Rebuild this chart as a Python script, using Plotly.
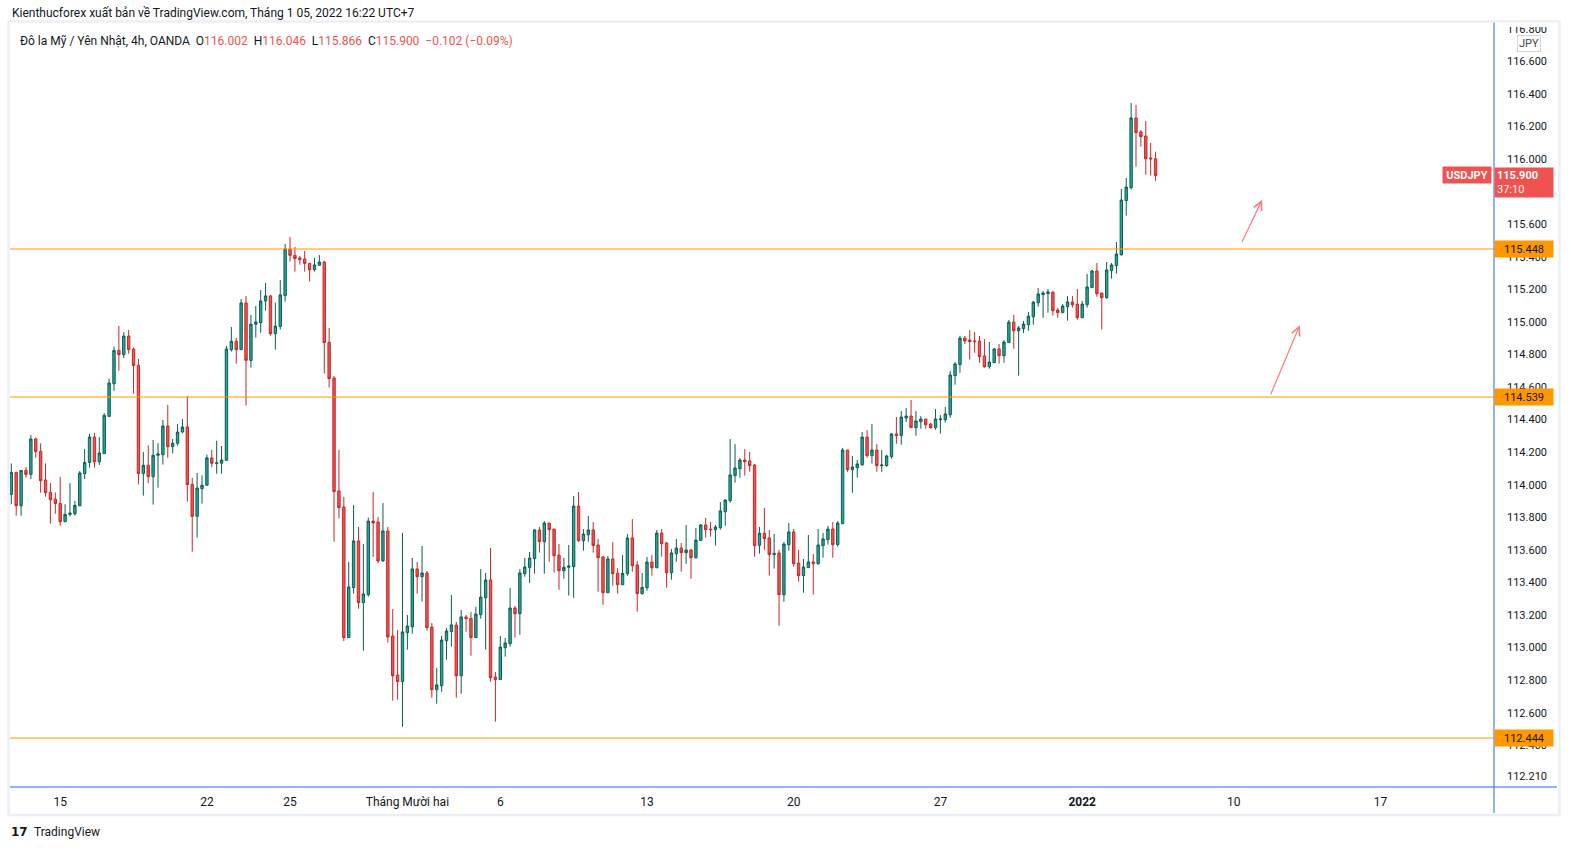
import plotly.graph_objects as go
import pandas as pd

# ---------------- data (USDJPY 4h, OANDA) ----------------
open_ = [113.941,114.076,113.871,114.088,114.064,114.281,114.205,114.029,113.953,113.912,
 113.885,113.773,113.818,113.822,113.871,114.068,114.137,114.293,114.141,114.191,
 114.420,114.621,114.825,114.799,114.913,114.833,114.733,114.070,114.119,114.050,
 114.181,114.185,114.361,114.234,114.255,114.324,114.355,114.001,113.806,113.976,
 113.997,114.165,114.130,114.132,114.150,114.830,114.881,114.830,115.117,114.764,
 114.986,114.996,115.129,115.160,114.928,114.973,115.162,115.448,115.409,115.393,
 115.387,115.360,115.321,115.348,115.368,114.875,114.656,113.962,113.863,113.061,
 113.368,113.655,113.276,113.325,113.777,113.771,113.532,113.716,113.071,112.831,
 112.791,113.092,113.128,113.483,113.435,113.458,113.126,112.741,112.766,113.042,
 113.098,113.138,112.827,113.188,113.179,113.061,113.202,113.306,113.415,112.819,
 112.803,112.999,113.024,113.243,113.208,113.454,113.491,113.546,113.722,113.650,
 113.765,113.728,113.568,113.472,113.493,113.497,113.869,113.656,113.693,113.722,
 113.630,113.556,113.337,113.544,113.456,113.386,113.454,113.673,113.507,113.331,
 113.368,113.525,113.490,113.703,113.642,113.460,113.576,113.611,113.583,113.599,
 113.552,113.658,113.753,113.728,113.724,113.736,113.834,113.902,114.056,114.099,
 114.152,114.146,114.121,113.628,113.702,113.673,113.571,113.581,113.325,113.632,
 113.710,113.519,113.442,113.491,113.526,113.515,113.626,113.663,113.728,113.632,
 113.761,114.213,114.093,114.105,114.123,114.293,114.179,114.213,114.117,114.117,
 114.173,114.312,114.302,114.410,114.422,114.351,114.387,114.404,114.373,114.351,
 114.400,114.400,114.430,114.670,114.738,114.901,114.889,114.883,114.883,114.791,
 114.725,114.750,114.834,114.793,114.873,114.999,114.946,114.959,114.983,115.032,
 115.118,115.168,115.174,115.184,115.073,115.057,115.094,115.123,115.110,115.026,
 115.106,115.211,115.313,115.178,115.149,115.315,115.346,115.413,115.745,115.825,
 116.253,116.167,116.142,116.007,116.002]
high = [114.131,114.080,114.088,114.109,114.305,114.289,114.254,114.131,114.010,113.953,
 114.047,113.880,114.010,113.900,114.084,114.219,114.313,114.318,114.293,114.440,
 114.653,114.850,114.975,114.938,114.950,114.842,114.772,114.201,114.242,114.275,
 114.255,114.398,114.490,114.281,114.373,114.404,114.545,114.042,114.072,114.058,
 114.185,114.214,114.271,114.238,114.853,114.969,114.902,115.141,115.160,115.043,
 115.098,115.196,115.239,115.166,115.119,115.258,115.479,115.522,115.461,115.405,
 115.436,115.360,115.393,115.411,115.375,114.963,114.668,114.214,113.925,113.526,
 113.876,113.741,113.636,113.798,113.956,113.802,113.888,113.741,113.237,113.108,
 113.704,113.200,113.550,113.526,113.624,113.470,113.151,112.874,113.071,113.120,
 113.323,113.157,113.231,113.200,113.218,113.251,113.482,113.458,113.611,112.850,
 113.071,113.059,113.366,113.255,113.482,113.550,113.587,113.728,113.740,113.777,
 113.765,113.728,113.636,113.550,113.630,113.931,113.955,113.728,113.808,113.771,
 113.667,113.562,113.562,113.648,113.488,113.568,113.697,113.789,113.531,113.458,
 113.556,113.568,113.722,113.728,113.648,113.605,113.667,113.642,113.753,113.605,
 113.734,113.759,113.796,113.771,113.753,113.894,113.912,114.281,114.250,114.164,
 114.219,114.201,114.127,113.741,113.857,113.722,113.698,113.601,113.648,113.765,
 113.728,113.599,113.544,113.691,113.575,113.728,113.704,113.747,113.771,113.777,
 114.226,114.213,114.177,114.152,114.324,114.336,114.373,114.250,114.213,114.183,
 114.318,114.416,114.453,114.471,114.521,114.453,114.422,114.404,114.379,114.465,
 114.428,114.478,114.699,114.754,114.914,114.914,114.950,114.938,114.914,114.895,
 114.877,114.840,114.865,114.889,115.012,115.043,114.975,115.006,115.061,115.129,
 115.208,115.190,115.202,115.184,115.086,115.110,115.159,115.159,115.202,115.129,
 115.295,115.319,115.362,115.178,115.368,115.362,115.491,115.817,115.884,116.345,
 116.333,116.179,116.234,116.099,116.046]
low = [113.880,113.810,113.810,114.043,114.035,114.166,113.951,113.926,113.761,113.822,
 113.748,113.773,113.806,113.810,113.871,114.035,114.105,114.105,114.121,114.191,
 114.416,114.576,114.700,114.778,114.805,114.559,114.002,113.933,114.009,113.878,
 113.982,114.124,114.165,114.193,114.240,114.316,113.896,113.589,113.675,113.884,
 113.997,114.107,114.068,114.068,114.150,114.818,114.744,114.830,114.486,114.719,
 114.904,114.934,115.070,114.916,114.830,114.953,115.125,115.371,115.309,115.352,
 115.309,115.248,115.309,115.348,114.683,114.597,113.650,113.792,113.040,113.061,
 113.331,113.239,112.981,113.313,113.556,113.519,113.526,113.030,112.674,112.680,
 112.514,112.987,113.085,113.331,113.282,113.104,112.692,112.655,112.729,112.926,
 113.006,112.692,112.717,113.097,112.950,113.061,113.177,112.987,112.790,112.545,
 112.803,112.944,113.005,113.061,113.079,113.435,113.398,113.454,113.583,113.454,
 113.527,113.460,113.355,113.423,113.319,113.306,113.650,113.595,113.650,113.583,
 113.343,113.263,113.337,113.380,113.331,113.386,113.441,113.466,113.220,113.325,
 113.349,113.441,113.490,113.558,113.368,113.417,113.527,113.466,113.515,113.423,
 113.546,113.656,113.675,113.681,113.626,113.724,113.748,113.890,114.013,114.043,
 114.056,114.080,113.558,113.577,113.601,113.442,113.485,113.134,113.282,113.595,
 113.497,113.405,113.337,113.491,113.325,113.509,113.552,113.632,113.552,113.620,
 113.761,114.080,113.951,114.044,114.117,114.166,114.130,114.080,114.080,114.111,
 114.160,114.252,114.246,114.385,114.351,114.301,114.344,114.344,114.344,114.338,
 114.314,114.381,114.412,114.615,114.688,114.865,114.768,114.811,114.750,114.719,
 114.713,114.750,114.744,114.750,114.873,114.836,114.670,114.932,114.946,114.983,
 115.094,115.026,115.057,115.039,115.026,115.057,115.008,115.088,115.014,115.026,
 115.088,115.211,115.155,114.953,115.143,115.266,115.297,115.407,115.653,115.813,
 115.954,116.077,115.905,115.899,115.866]
close = [114.076,113.871,114.088,114.064,114.281,114.205,114.025,113.951,113.908,113.885,
 113.773,113.818,113.826,113.873,114.072,114.137,114.293,114.141,114.195,114.426,
 114.625,114.825,114.799,114.913,114.831,114.733,114.068,114.119,114.050,114.181,
 114.189,114.361,114.234,114.255,114.324,114.355,114.001,113.806,113.980,113.997,
 114.165,114.132,114.134,114.152,114.834,114.881,114.830,115.117,114.764,114.986,
 115.000,115.129,115.160,114.928,114.975,115.166,115.448,115.409,115.389,115.383,
 115.360,115.321,115.350,115.368,114.873,114.652,113.958,113.859,113.061,113.372,
 113.655,113.276,113.329,113.777,113.765,113.532,113.716,113.065,112.827,112.791,
 113.096,113.132,113.483,113.435,113.458,113.122,112.741,112.770,113.046,113.102,
 113.139,112.827,113.188,113.179,113.061,113.206,113.310,113.415,112.815,112.803,
 113.003,113.028,113.243,113.208,113.458,113.495,113.550,113.722,113.650,113.765,
 113.724,113.564,113.472,113.493,113.501,113.869,113.656,113.697,113.722,113.626,
 113.552,113.337,113.544,113.454,113.386,113.456,113.673,113.503,113.331,113.370,
 113.525,113.490,113.703,113.638,113.460,113.581,113.611,113.583,113.599,113.552,
 113.660,113.753,113.724,113.724,113.740,113.839,113.906,114.060,114.103,114.152,
 114.142,114.117,113.626,113.702,113.669,113.571,113.579,113.325,113.636,113.710,
 113.515,113.442,113.495,113.526,113.515,113.630,113.667,113.728,113.632,113.765,
 114.213,114.093,114.109,114.128,114.293,114.179,114.213,114.117,114.121,114.177,
 114.312,114.302,114.416,114.422,114.351,114.392,114.404,114.369,114.351,114.404,
 114.404,114.435,114.674,114.742,114.901,114.883,114.879,114.879,114.787,114.725,
 114.754,114.834,114.793,114.877,114.999,114.946,114.963,114.987,115.036,115.122,
 115.172,115.178,115.184,115.069,115.057,115.098,115.123,115.106,115.026,115.110,
 115.215,115.313,115.174,115.149,115.319,115.350,115.417,115.749,115.829,116.253,
 116.163,116.138,116.003,116.002,115.900]

first_bar = "2021-11-11 13:00"          # first visible 4h bar (UTC+7)
tick_dates = ["2021-11-15", "2021-11-22", "2021-11-25", "2021-12-01", "2021-12-06",
              "2021-12-13", "2021-12-20", "2021-12-27", "2022-01-01", "2022-01-10", "2022-01-17"]
tick_labels = ["15", "22", "25", "Tháng Mười hai", "6", "13", "20", "27", "<b>2022</b>", "10", "17"]

levels = [115.448, 114.539, 112.444]          # horizontal support/resistance lines
price_ticks = [112.21, 112.4, 112.6, 112.8, 113.0, 113.2, 113.4, 113.6, 113.8, 114.0,
               114.2, 114.4, 114.6, 114.8, 115.0, 115.2, 115.4, 115.6, 115.8, 116.0,
               116.2, 116.4, 116.6, 116.8]
# arrows drawn on chart (bar index, price)
arrow_tail_x = [251.5, 257.4]
arrow_tail_y = [115.48, 114.545]
arrow_head_x = [255.8, 263.5]
arrow_head_y = [115.75, 114.98]

header_text = "Kienthucforex xuất bản về TradingView.com, Tháng 1 05, 2022 16:22 UTC+7"
symbol_text = "Đô la Mỹ / Yên Nhật, 4h, OANDA"
countdown = "37:10"

# ---------------- bar timeline (forex 4h bars, weekends skipped) ----------------
bars = []
day = pd.Timestamp("2021-11-11")
while day < pd.Timestamp("2022-01-25"):
    if day.weekday() < 5:
        for h in [5, 9, 13, 17, 21, 25]:
            bars.append(day + pd.Timedelta(hours=h))
    day += pd.Timedelta(days=1)
bars = [b for b in bars if b >= pd.Timestamp(first_bar)]
tick_pos = []
for d in tick_dates:
    dd = pd.Timestamp(d).date()
    tick_pos.append(next(i for i, b in enumerate(bars) if b.date() == dd))

UP_FILL, UP_LINE = "#26a69a", "#0b5e52"
DN_FILL, DN_LINE = "#ef5350", "#c62828"
ORANGE = "#ff9800"
BLUE = "#2962ff"
TXT = "#131722"
FONT = "Roboto"

W, H = 1571, 852
ML, MR, MT, MB = 10, 77, 22, 65
PW, PH = W - ML - MR, H - MT - MB

def px(X):
    return (X - ML) / PW

def py(Y):
    return (H - MB - Y) / PH

xs = list(range(len(open_)))

fig = go.Figure()
fig.add_trace(go.Candlestick(
    x=xs, open=open_, high=high, low=low, close=close,
    increasing=dict(line=dict(color=UP_LINE, width=1), fillcolor=UP_FILL),
    decreasing=dict(line=dict(color=DN_LINE, width=1), fillcolor=DN_FILL),
    whiskerwidth=0, hoverinfo="skip", showlegend=False,
))

shapes = []
for lv in levels:
    shapes.append(dict(type="line", xref="paper", yref="y", x0=0, x1=1, y0=lv, y1=lv,
                       line=dict(color=ORANGE, width=1), layer="above"))
# scale borders
shapes.append(dict(type="line", xref="paper", yref="paper", x0=0, x1=px(1557), y0=0, y1=0,
                   line=dict(color=BLUE, width=1)))
shapes.append(dict(type="line", xref="paper", yref="paper", x0=1, x1=1, y0=1, y1=py(813),
                   line=dict(color=BLUE, width=1)))
# outer frame
shapes.append(dict(type="rect", xref="paper", yref="paper", x0=px(8.5), x1=px(1559.5),
                   y0=py(815), y1=py(21.5), line=dict(color="#eceff5", width=2.5)))
# top edge of price scale clips the topmost label
shapes.append(dict(type="rect", xref="paper", yref="paper", x0=px(1495), x1=px(1557),
                   y0=py(27), y1=py(22.5), fillcolor="white", line=dict(width=0), layer="above"))

annotations = []
for lv in levels:
    annotations.append(dict(xref="paper", yref="y", x=1, y=lv, xanchor="left", yanchor="middle",
                            text=f"{lv:.3f}", showarrow=False, bgcolor=ORANGE, width=54, height=12,
                            borderpad=2, font=dict(family=FONT, size=11, color=TXT)))
last = close[-1]
chg = close[-1] - close[-2]
pct = chg / close[-2] * 100
annotations.append(dict(xref="paper", yref="y", x=1, y=last, yshift=8, xanchor="left", yanchor="top",
                        text=f"<b>{last:.3f}</b><br><span style='color:#fff1f1'>{countdown}</span>",
                        showarrow=False, bgcolor="#ef5350", width=54, height=25, borderpad=2,
                        align="left", font=dict(family=FONT, size=11, color="white")))
annotations.append(dict(xref="paper", yref="y", x=px(1442), y=last, yshift=0, xanchor="left",
                        yanchor="middle", text="<b>USDJPY</b>", showarrow=False, bgcolor="#ef5350",
                        width=44, height=12, borderpad=2,
                        font=dict(family=FONT, size=11, color="white")))
annotations.append(dict(xref="paper", yref="paper", x=px(1529), y=py(43), xanchor="center",
                        yanchor="middle", text="JPY", showarrow=False, bgcolor="white",
                        bordercolor="#d1d4dc", borderwidth=1, borderpad=1,
                        font=dict(family=FONT, size=11, color="#434651")))
annotations.append(dict(xref="paper", yref="paper", x=0, y=py(13), xanchor="left", yanchor="middle",
                        text=header_text, showarrow=False,
                        font=dict(family=FONT, size=12, color=TXT)))
RED = "#ef5350"
nb = "\u00a0"
def val(v):
    return f"<span style='color:{RED}'>{v:.3f}</span>"
sign = "\u2212" if chg < 0 else "+"
legend = (f"{symbol_text}{nb}{nb}O{val(open_[-1])}{nb}{nb}H{val(high[-1])}{nb}{nb}L{val(low[-1])}"
          f"{nb}{nb}C{val(close[-1])}{nb}{nb}<span style='color:{RED}'>{sign}{abs(chg):.3f} "
          f"({sign}{abs(pct):.2f}%)</span>")
annotations.append(dict(xref="paper", yref="paper", x=px(18), y=py(41), xanchor="left", yanchor="middle",
                        text=legend, showarrow=False, font=dict(family=FONT, size=12, color=TXT)))
for tx, ty, hx, hy in zip(arrow_tail_x, arrow_tail_y, arrow_head_x, arrow_head_y):
    annotations.append(dict(x=hx, y=hy, ax=tx, ay=ty, xref="x", yref="y", axref="x", ayref="y",
                            text="", showarrow=True, arrowhead=5, arrowsize=1.4, arrowwidth=1.2,
                            arrowcolor="#f77c80", standoff=0))
# logo
annotations.append(dict(xref="paper", yref="paper", x=px(9), y=py(832), xanchor="left", yanchor="middle",
                        text="<b>17</b>", showarrow=False,
                        font=dict(family="DejaVu Sans", size=12, color=TXT)))
annotations.append(dict(xref="paper", yref="paper", x=px(32), y=py(832), xanchor="left", yanchor="middle",
                        text="TradingView", showarrow=False,
                        font=dict(family=FONT, size=12, color=TXT)))

ymin = 114.539 - (H - MB - 397) / 162.8
ymax = 114.539 + (397 - MT) / 162.8
xmin = (ML - 11.3) / 4.89
xmax = (ML + PW - 11.3) / 4.89

fig.update_layout(
    width=W, height=H, margin=dict(l=ML, r=MR, t=MT, b=MB, pad=0),
    paper_bgcolor="white", plot_bgcolor="white", showlegend=False,
    font=dict(family=FONT, size=11, color=TXT),
    shapes=shapes, annotations=annotations, hovermode=False,
    xaxis=dict(range=[xmin, xmax], rangeslider=dict(visible=False), showgrid=False, zeroline=False,
               tickmode="array", tickvals=tick_pos, ticktext=tick_labels, ticks="",
               ticklabelstandoff=6, tickfont=dict(family=FONT, size=12, color=TXT), fixedrange=True),
    yaxis=dict(range=[ymin, ymax], side="right", showgrid=False, zeroline=False,
               tickmode="array", tickvals=price_ticks, ticktext=[f"{v:.3f}" for v in price_ticks],
               ticks="", ticklabelstandoff=12, tickfont=dict(family=FONT, size=11, color=TXT),
               fixedrange=True),
)

fig.write_html("out.html", config={"displayModeBar": False},
               post_script="document.body.style.margin='0';document.body.style.overflow='hidden';")
